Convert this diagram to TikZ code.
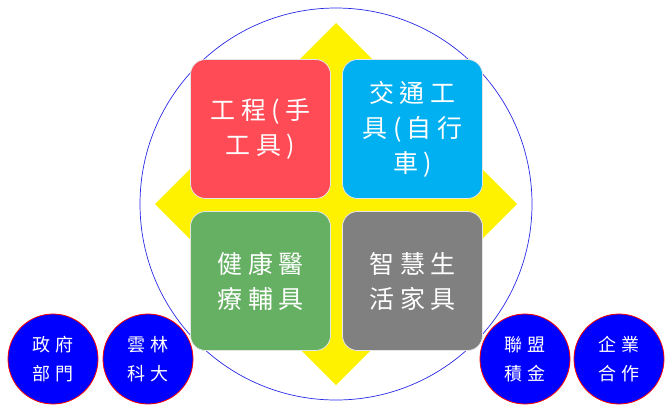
\documentclass[tikz,border=0pt]{standalone}
\usepackage{fontspec}
\newfontfamily\cjkbig[LetterSpace=22]{Noto Sans CJK TC}
\newfontfamily\cjksmall[LetterSpace=30]{Noto Sans CJK TC}
\definecolor{tilered}{RGB}{255,75,85}
\definecolor{tilecyan}{RGB}{0,176,240}
\definecolor{tilegreen}{RGB}{102,176,100}
\definecolor{tilegray}{RGB}{128,128,128}
\definecolor{ringblue}{RGB}{40,40,230}

\begin{document}
\begin{tikzpicture}[x=1pt,y=-1pt,
  tile/.style={rounded corners=15pt, draw=white!80!gray, line width=0.8pt,
    minimum width=140pt, minimum height=139pt, inner sep=0pt,
    text=white, align=center, font=\fontsize{25}{35}\cjkbig},
  partner/.style={circle, fill=blue, draw=red, line width=0.8pt,
    minimum size=90pt, inner sep=0pt,
    text=white, align=center, font=\fontsize{18}{29}\cjksmall}]
\useasboundingbox (0,0) rectangle (671,408);
% yellow diamond behind the tiles
\fill[yellow] (336,23)--(517,204)--(336,385)--(155,204)--cycle;
\draw[ringblue, line width=0.7pt] (336,204) circle[radius=196];
% four tiles
\node[tile, fill=tilered] (gongcheng) at (260.5,129) {工程(手\\工具)};
\node[tile, fill=tilecyan] (jiaotong) at (412.5,129) {交通工\\具(自行\\車)};
\node[tile, fill=tilegreen] (jiankang) at (260.5,281) {健康醫\\療輔具};
\node[tile, fill=tilegray] (zhihui) at (412.5,281) {智慧生\\活家具};
% partners along the bottom
\node[partner] (zhengfu) at (53,359) {政府\\部門};
\node[partner] (yunlin) at (148,359) {雲林\\科大};
\node[partner] (lianmeng) at (525,359) {聯盟\\積金};
\node[partner] (qiye) at (619,359) {企業\\合作};
\end{tikzpicture}
\end{document}
